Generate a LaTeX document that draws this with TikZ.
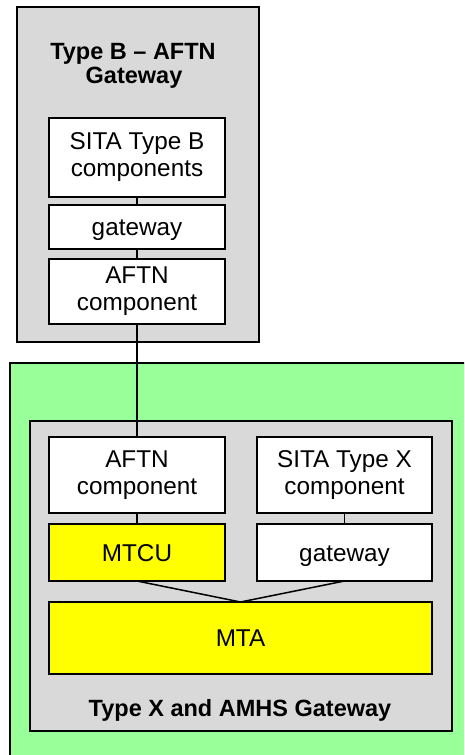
\documentclass[tikz,border=0pt]{standalone}
\usepackage{fontspec}
\setmainfont{Liberation Sans}
\definecolor{panelgray}{HTML}{D9D9D9}
\definecolor{lightgreen}{HTML}{99FF99}
\definecolor{boxyellow}{HTML}{FFFF00}
\begin{document}
\begin{tikzpicture}[x=1pt,y=-1pt,
  frame/.style={draw=black,line width=1.6pt,inner sep=0pt,outer sep=0pt},
  panel/.style={frame,fill=panelgray},
  comp/.style={frame,fill=white,align=center,font=\fontsize{24.3}{27}\selectfont},
  onel/.style={text height=17.5pt,text depth=0pt},
  ycomp/.style={comp,fill=boxyellow},
  title/.style={font=\fontsize{23.5}{24}\selectfont\bfseries,anchor=base,inner sep=0pt},
  link/.style={draw=black,line width=1.5pt}]
\clip (0,0) rectangle (464,755);
% outer green area (extends beyond the picture)
\node[frame,fill=lightgreen,minimum width=470pt,minimum height=410pt,anchor=north west] (green) at (10,363) {};
% upper panel
\node[panel,minimum width=242pt,minimum height=335pt] (top) at (138,174.5) {};
\node[title] (t1) at (133,59) {Type B -- AFTN};
\node[title] (t2) at (134,83) {Gateway};
\node[comp,minimum width=176pt,minimum height=79pt] (sitab) at (137,157.5) {SITA Type B\\components};
\node[comp,onel,minimum width=176pt,minimum height=44pt] (gwb) at (137,227) {gateway};
\node[comp,minimum width=176pt,minimum height=65pt] (aftnb) at (137,291.5) {AFTN\\component};
% lower panel
\node[panel,minimum width=422pt,minimum height=310pt] (low) at (241,576) {};
\node[title] (t3) at (240,716) {Type X and AMHS Gateway};
\node[comp,minimum width=176pt,minimum height=76pt] (aftnx) at (137,475) {AFTN\\component};
\node[comp,minimum width=175pt,minimum height=76pt] (sitax) at (344.5,475) {SITA Type X\\component};
\node[ycomp,onel,minimum width=176pt,minimum height=57pt] (mtcu) at (137,552.5) {MTCU};
\node[comp,onel,minimum width=175pt,minimum height=57pt] (gwx) at (344.5,552.5) {gateway};
\node[ycomp,onel,minimum width=383pt,minimum height=72pt] (mta) at (240.5,638) {MTA};
% connectors
\draw[link] (sitab.south) -- (gwb.north);
\draw[link] (gwb.south) -- (aftnb.north);
\draw[link] (aftnb.south) -- (aftnx.north);
\draw[link] (aftnx.south) -- (mtcu.north);
\draw[link] (sitax.south) -- (gwx.north);
\draw[link] (mtcu.south) -- (mta.north);
\draw[link] (gwx.south) -- (mta.north);
\end{tikzpicture}
\end{document}
